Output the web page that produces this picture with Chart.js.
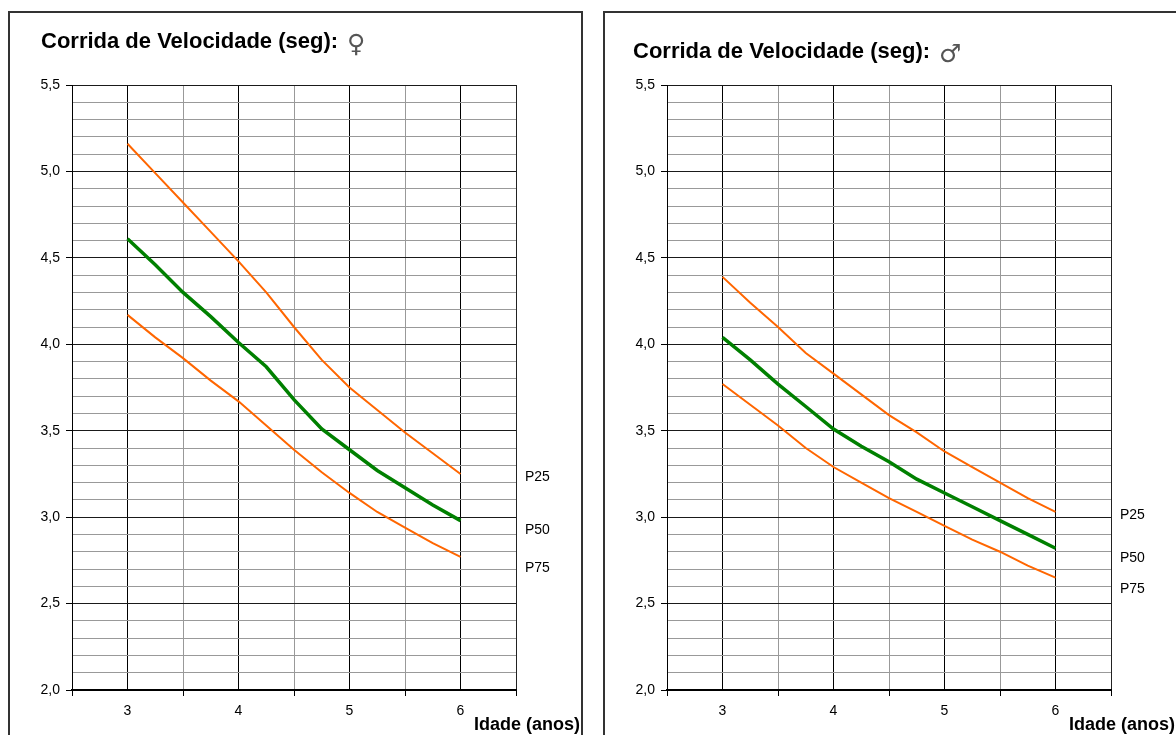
<!DOCTYPE html>
<html lang="pt">
<head>
<meta charset="utf-8">
<title>Corrida de Velocidade</title>
<script src="https://cdn.jsdelivr.net/npm/chart.js@4.4.1/dist/chart.umd.min.js"></script>
<style>
  body { margin: 0; background: #fff; width: 1176px; height: 735px; overflow: hidden; position: relative; }
  .painel { position: absolute; top: 11px; width: 571px; height: 740px; border: 2px solid #333; background: #fff; }
  .painel canvas { display: block; }
</style>
</head>
<body>
<div class="painel" style="left:8px"><canvas id="graficoFem" width="571" height="722"></canvas></div>
<div class="painel" style="left:603px"><canvas id="graficoMasc" width="571" height="722"></canvas></div>
<script>
// idade em anos (eixo x)
var idades = [3, 3.25, 3.5, 3.75, 4, 4.25, 4.5, 4.75, 5, 5.25, 5.5, 5.75, 6];

// tempos (seg) - meninas
var femP25 = [5.16, 4.99, 4.82, 4.65, 4.48, 4.30, 4.10, 3.91, 3.75, 3.62, 3.49, 3.37, 3.25];
var femP50 = [4.61, 4.46, 4.30, 4.16, 4.01, 3.87, 3.68, 3.51, 3.39, 3.27, 3.17, 3.07, 2.98];
var femP75 = [4.17, 4.04, 3.92, 3.79, 3.67, 3.53, 3.39, 3.26, 3.14, 3.03, 2.94, 2.85, 2.77];

// tempos (seg) - meninos
var mascP25 = [4.39, 4.24, 4.10, 3.95, 3.83, 3.71, 3.59, 3.49, 3.38, 3.29, 3.20, 3.11, 3.03];
var mascP50 = [4.04, 3.91, 3.77, 3.64, 3.51, 3.41, 3.32, 3.22, 3.14, 3.06, 2.98, 2.90, 2.82];
var mascP75 = [3.77, 3.65, 3.53, 3.40, 3.29, 3.20, 3.11, 3.03, 2.95, 2.87, 2.80, 2.72, 2.65];

var percentis = ['P25', 'P50', 'P75'];
var anosEixo = [3, 4, 5, 6];

var laranja = '#ff6600';
var verde = '#008000';
var fonte = '"Liberation Sans", Arial, sans-serif';

function ehMeio(v) {
    return Math.round(v * 10) % 5 === 0;
}

function serie(rotulo, valores, cor, largura) {
    return {
        label: rotulo,
        data: idades.map(function (a, i) { return { x: a, y: valores[i] }; }),
        borderColor: cor,
        borderWidth: largura,
        pointRadius: 0,
        tension: 0,
        fill: false
    };
}

// titulo, simbolo, nomes dos percentis e titulo do eixo x
var cabecalho = {
    id: 'cabecalho',
    afterDraw: function (chart, args, opts) {
        var ctx = chart.ctx, area = chart.chartArea, escY = chart.scales.y;
        ctx.save();
        ctx.textAlign = 'left';
        ctx.textBaseline = 'alphabetic';
        ctx.fillStyle = '#000';
        ctx.font = 'bold 22px ' + fonte;
        ctx.fillText(opts.titulo, opts.tituloX, opts.tituloY);
        var fim = opts.tituloX + ctx.measureText(opts.titulo).width;
        ctx.fillStyle = '#555';
        ctx.font = '25px "DejaVu Sans", sans-serif';
        ctx.fillText(opts.simbolo, fim + 9, opts.tituloY + 4);

        ctx.fillStyle = '#000';
        ctx.font = '14px ' + fonte;
        ctx.textBaseline = 'middle';
        chart.data.datasets.forEach(function (ds, i) {
            var ultimo = ds.data[ds.data.length - 1].y;
            ctx.fillText(ds.label, area.right + 9, escY.getPixelForValue(ultimo) + opts.desvios[i]);
        });

        ctx.font = 'bold 18px ' + fonte;
        ctx.textAlign = 'right';
        ctx.fillText('Idade (anos)', chart.width - 1, opts.eixoXY);
        ctx.restore();
    }
};

function desenhar(id, p25, p50, p75, extra) {
    return new Chart(document.getElementById(id), {
        type: 'line',
        data: {
            datasets: [
                serie(percentis[0], p25, laranja, 2),
                serie(percentis[1], p50, verde, 3.5),
                serie(percentis[2], p75, laranja, 2)
            ]
        },
        options: {
            responsive: false,
            animation: false,
            devicePixelRatio: 1,
            layout: { padding: { top: 72, right: 65, left: 0, bottom: 0 } },
            plugins: {
                legend: { display: false },
                tooltip: { enabled: false },
                title: { display: false },
                cabecalho: extra
            },
            scales: {
                x: {
                    type: 'linear',
                    min: 2.5,
                    max: 6.5,
                    afterFit: function (s) { s.height = 45; },
                    border: { display: true, color: '#000', width: 2 },
                    grid: {
                        lineWidth: 1,
                        tickLength: 6,
                        color: function (c) {
                            if (!c.tick) return '#999';
                            var v = c.tick.value;
                            if (v === 6.5) return '#222';
                            return Number.isInteger(v) ? '#000' : '#999';
                        },
                        tickColor: function (c) {
                            return c.tick && Number.isInteger(c.tick.value) ? 'rgba(0,0,0,0)' : '#000';
                        }
                    },
                    ticks: {
                        stepSize: 0.5,
                        autoSkip: false,
                        maxRotation: 0,
                        padding: 7,
                        color: '#000',
                        font: { family: fonte, size: 14 },
                        callback: function (v) {
                            return anosEixo.indexOf(v) >= 0 ? String(v) : '';
                        }
                    }
                },
                y: {
                    min: 2,
                    max: 5.5,
                    afterFit: function (s) { s.width = 62; },
                    border: { display: true, color: '#000', width: 1 },
                    grid: {
                        lineWidth: 1,
                        tickLength: 6,
                        color: function (c) {
                            return c.tick && ehMeio(c.tick.value) ? '#1a1a1a' : '#999';
                        },
                        tickColor: function (c) {
                            return c.tick && ehMeio(c.tick.value) ? '#000' : 'rgba(0,0,0,0)';
                        }
                    },
                    ticks: {
                        stepSize: 0.1,
                        autoSkip: false,
                        padding: 6,
                        color: '#000',
                        font: { family: fonte, size: 14 },
                        callback: function (v) {
                            return ehMeio(v) ? v.toFixed(1).replace('.', ',') : '';
                        }
                    }
                }
            }
        },
        plugins: [cabecalho]
    });
}

desenhar('graficoFem', femP25, femP50, femP75, {
    titulo: 'Corrida de Velocidade (seg):',
    simbolo: '\u2640',
    tituloX: 31,
    tituloY: 35,
    desvios: [3, 10, 11],
    eixoXY: 712
});

desenhar('graficoMasc', mascP25, mascP50, mascP75, {
    titulo: 'Corrida de Velocidade (seg):',
    simbolo: '\u2642',
    tituloX: 28,
    tituloY: 45,
    desvios: [3, 10, 11],
    eixoXY: 712
});
</script>
</body>
</html>
